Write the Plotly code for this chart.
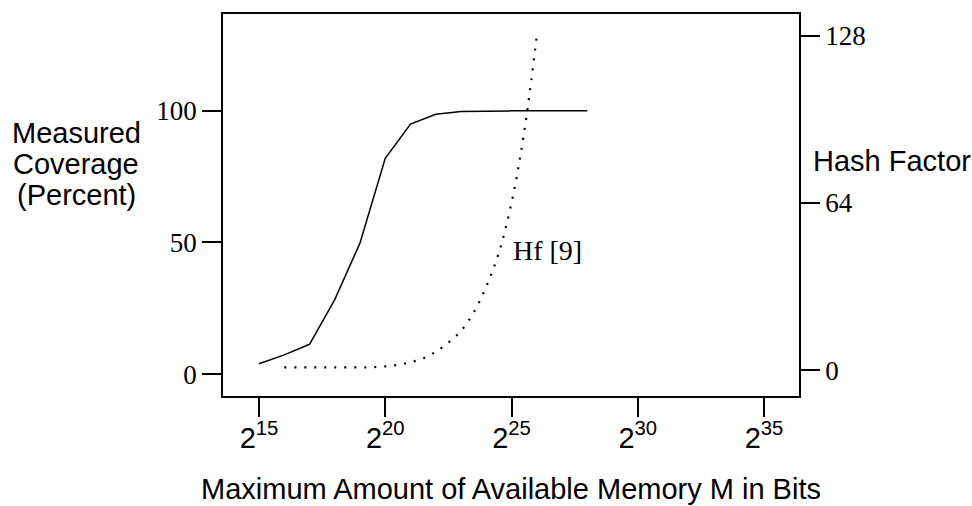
import plotly.graph_objects as go

# Data (x = log2 of available memory M in bits)
coverage_exp = [15, 16, 17, 18, 19, 20, 21, 22, 23, 24, 25, 26, 27, 28]
coverage_pct = [3.9, 7.3, 11.3, 28.3, 49.8, 82, 95, 98.7, 99.8, 100, 100, 100, 100, 100]

hash_exp = [16, 17, 18, 19, 19.5, 20, 20.5, 21, 21.5, 22, 22.5, 23, 23.5, 24, 24.5, 25, 25.5, 26]
hash_factor = [1, 1, 1, 1, 1.1, 1.4, 2, 3, 4.5, 7, 10.5, 15, 22, 32, 45, 64, 91, 128]

x_tickvals = [15, 20, 25, 30, 35]
x_ticktext = ["2<sup>%d</sup>" % v for v in x_tickvals]
y_tickvals = [0, 50, 100]
y2_tickvals = [0, 64, 128]

SERIF = "Liberation Serif, Times New Roman, serif"
SANS = "Liberation Sans, Arial, Helvetica, sans-serif"

fig = go.Figure()
fig.add_trace(go.Scatter(x=coverage_exp, y=coverage_pct, mode="lines",
                         line=dict(color="black", width=1.5), showlegend=False))
fig.add_trace(go.Scatter(x=hash_exp, y=hash_factor, mode="lines", yaxis="y2",
                         line=dict(color="black", width=2.2, dash="2px,8px", shape="spline"),
                         showlegend=False))

L, R, T, B = 223, 173, 12, 110
W, H = 972, 506
pw, ph = W - L - R, H - T - B

def px(x):
    return (x - L) / pw

def py(y):
    return (H - B - y) / ph

fig.update_layout(
    width=W, height=H,
    margin=dict(l=L, r=R, t=T, b=B, pad=0),
    paper_bgcolor="white", plot_bgcolor="white",
    xaxis=dict(range=[13.574, 36.386], tickvals=x_tickvals, ticktext=x_ticktext,
               ticks="outside", ticklen=19, tickwidth=1.5, tickcolor="black",
               showline=True, linecolor="black", linewidth=1.5, mirror=True,
               showgrid=False, zeroline=False, ticklabelstandoff=-4,
               tickfont=dict(family=SANS, size=29, color="black")),
    yaxis=dict(range=[-8.34, 136.8], tickvals=y_tickvals,
               ticks="outside", ticklen=19, tickwidth=1.5, tickcolor="black",
               showline=True, linecolor="black", linewidth=1.5,
               showgrid=False, zeroline=False,
               tickfont=dict(family=SERIF, size=27, color="black")),
    yaxis2=dict(range=[-9.94, 136.4], tickvals=y2_tickvals, overlaying="y", side="right",
                ticks="outside", ticklen=19, tickwidth=1.5, tickcolor="black",
                showline=True, linecolor="black", linewidth=1.5,
                showgrid=False, zeroline=False,
                tickfont=dict(family=SERIF, size=27, color="black")),
)

ann = []
for txt, yy in [("Measured", 132), ("Coverage", 163), ("(Percent)", 194)]:
    ann.append(dict(text=txt, x=px(76), y=py(yy), xref="paper", yref="paper",
                    xanchor="center", yanchor="middle", showarrow=False,
                    font=dict(family=SANS, size=29, color="black")))
ann.append(dict(text="Hash Factor", x=px(811), y=py(160), xref="paper", yref="paper",
                xanchor="left", yanchor="middle", showarrow=False,
                font=dict(family=SANS, size=29, color="black")))
ann.append(dict(text="Maximum Amount of Available Memory M in Bits", x=0.5, y=py(489),
                xref="paper", yref="paper", xanchor="center", yanchor="middle",
                showarrow=False, font=dict(family=SANS, size=29, color="black")))
ann.append(dict(text="Hf [9]", x=px(547), y=py(250), xref="paper", yref="paper",
                xanchor="center", yanchor="middle", showarrow=False,
                font=dict(family=SERIF, size=28, color="black")))
fig.update_layout(annotations=ann)

fig.write_html("out.html")
